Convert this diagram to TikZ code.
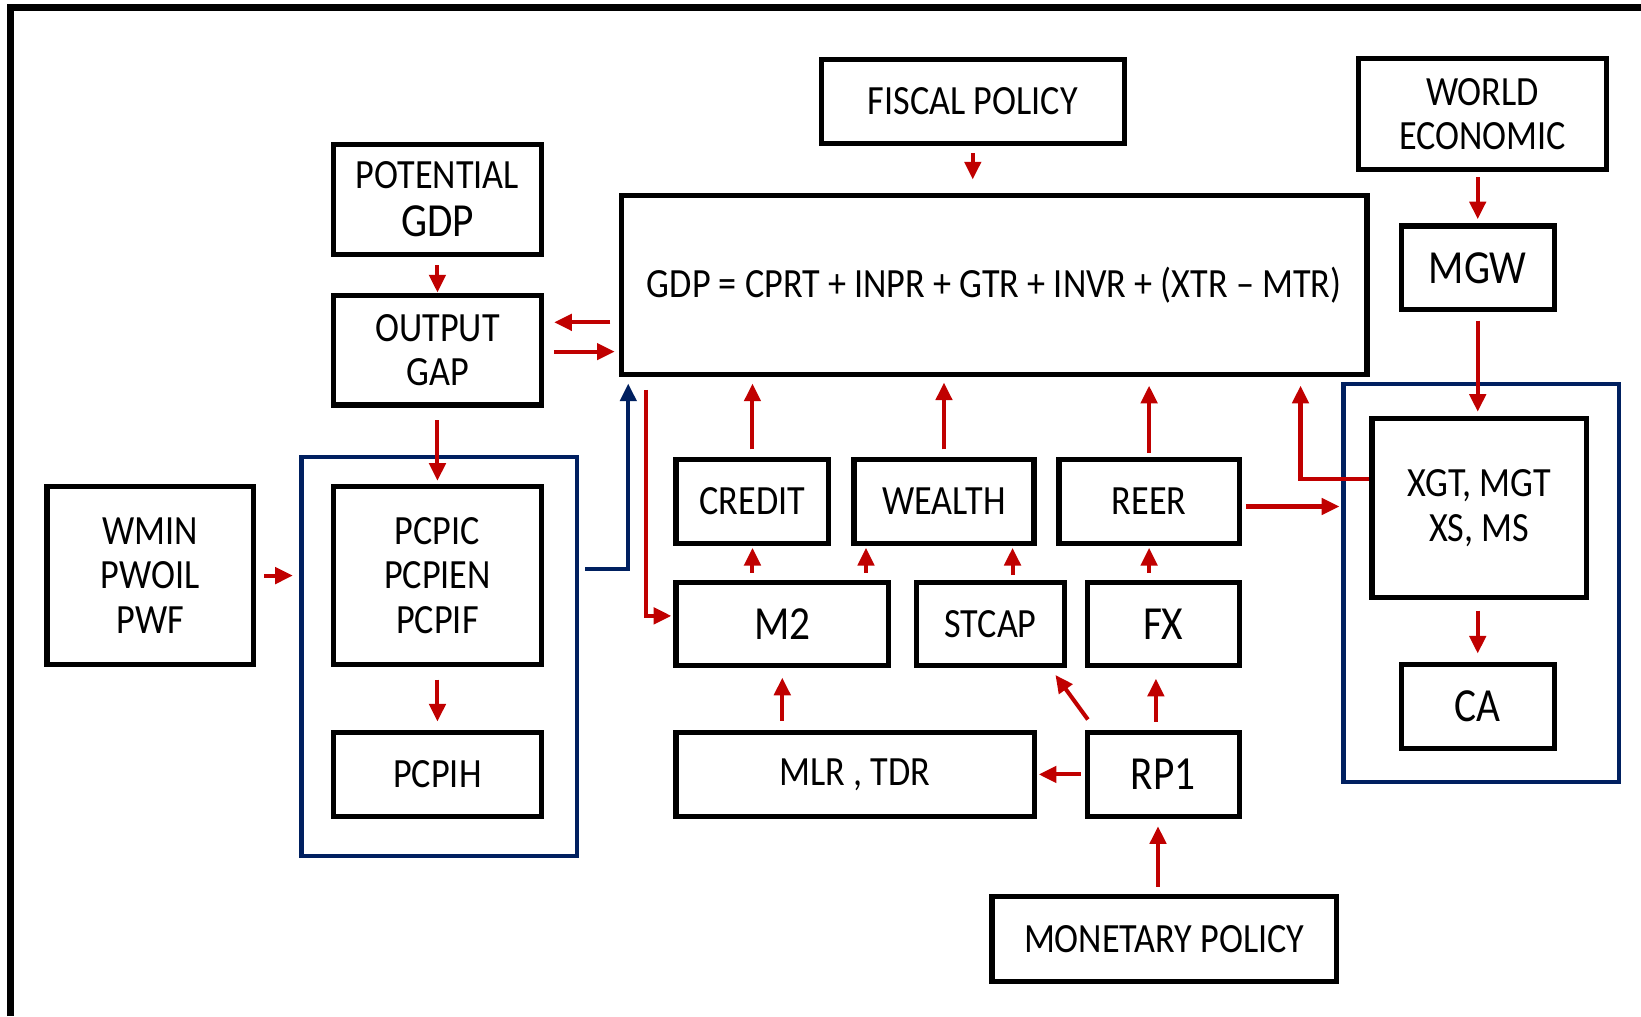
\documentclass[tikz,border=0pt]{standalone}
\usepackage{fontspec}
\setmainfont{Carlito}[FakeStretch=0.87]
\usetikzlibrary{arrows.meta,calc}
\definecolor{linkred}{HTML}{C00000}
\definecolor{groupblue}{HTML}{002060}
\newcommand{\boxtxt}{\fontsize{11.3}{12.1}\selectfont}
\newcommand{\bigtxt}{\fontsize{12.9}{14}\selectfont}

\begin{document}
\begin{tikzpicture}[x=0.01cm, y=-0.01cm,
    box/.style={draw, line width=1.4pt, align=center, inner sep=0pt, font=\boxtxt},
    group/.style={draw=groupblue, line width=1.2pt, inner sep=0pt},
    link/.style={draw=linkred, line width=1.1pt, -{Triangle[length=4.8pt, width=4.4pt]}},
    feed/.style={draw=groupblue, line width=1.1pt, -{Triangle[length=4.8pt, width=4.4pt]}}]
    \useasboundingbox (0,0) rectangle (1568,971);

    % Frame
    \draw[line width=1.8pt] (10,971) -- (10,7) -- (1568,7);

    % Groups
    \node[group, minimum width=2.63cm, minimum height=3.81cm] (blueL) at (419.5,627.5) {};
    \node[group, minimum width=2.63cm, minimum height=3.80cm] (blueR) at (1415.5,557) {};

    % Supply side and prices
    \node[box, minimum width=1.98cm, minimum height=1.05cm] (pot) at (418,190.5) {POTENTIAL\\[1pt]{\bigtxt GDP}};
    \node[box, minimum width=1.98cm, minimum height=1.05cm] (gap) at (418,334.5) {OUTPUT\\GAP};
    \node[box, minimum width=1.97cm, minimum height=1.70cm] (wmin) at (143.5,550) {WMIN\\PWOIL\\PWF};
    \node[box, minimum width=1.98cm, minimum height=1.70cm] (pcpic) at (418,550) {PCPIC\\PCPIEN\\PCPIF};
    \node[box, minimum width=1.98cm, minimum height=0.80cm] (pcpih) at (418,740) {PCPIH};

    % Demand block
    \node[box, minimum width=2.89cm, minimum height=0.80cm] (fiscal) at (929.5,97) {FISCAL POLICY};
    \node[box, minimum width=7.12cm, minimum height=1.71cm] (gdp) at (950,272.5) {GDP = CPRT + INPR + GTR + INVR + (XTR -- MTR)};

    % External sector
    \node[box, minimum width=2.37cm, minimum height=1.06cm] (world) at (1416.5,109) {WORLD\\ECONOMIC};
    \node[box, minimum width=1.46cm, minimum height=0.80cm, font=\bigtxt] (mgw) at (1412,256) {MGW};
    \node[box, minimum width=2.05cm, minimum height=1.71cm] (xgt) at (1413.5,485.5) {XGT, MGT\\XS, MS};
    \node[box, minimum width=1.46cm, minimum height=0.80cm, font=\bigtxt] (ca) at (1412,675) {CA};

    % Monetary block
    \node[box, minimum width=1.46cm, minimum height=0.80cm] (credit) at (719,479) {CREDIT};
    \node[box, minimum width=1.72cm, minimum height=0.80cm] (wealth) at (902,479) {WEALTH};
    \node[box, minimum width=1.72cm, minimum height=0.80cm] (reer) at (1098,479) {REER};
    \node[box, minimum width=2.03cm, minimum height=0.79cm, font=\bigtxt] (m2) at (747.5,596.5) {M2};
    \node[box, minimum width=1.41cm, minimum height=0.79cm] (stcap) at (946.5,596.5) {STCAP};
    \node[box, minimum width=1.45cm, minimum height=0.79cm, font=\bigtxt] (fx) at (1111.5,596.5) {FX};
    \node[box, minimum width=3.42cm, minimum height=0.80cm] (mlr) at (817,740) {MLR , TDR};
    \node[box, minimum width=1.45cm, minimum height=0.80cm, font=\bigtxt] (rp1) at (1111.5,740) {RP1};
    \node[box, minimum width=3.29cm, minimum height=0.81cm] (monetary) at (1112.5,897.5) {MONETARY POLICY};

    % Arrows, left part
    \draw[link, shorten <=0.8mm] (pot.south) -- (gap.north);
    \draw[link] ($(gdp.west |- gap.east)+(-8,-26.5)$) -- ($(gap.east)+(10,-26.5)$);
    \draw[link] ($(gap.east)+(10,1.5)$) -- ($(gdp.west |- gap.east)+(-4,1.5)$);
    \draw[link, shorten <=1.2mm, shorten >=0.3mm] (gap.south) -- (pcpic.north);
    \draw[link, shorten <=0.8mm, shorten >=0.6mm] (wmin.east) -- (blueL.west |- wmin.east);
    \draw[link, shorten <=1.2mm, shorten >=0.8mm] (pcpic.south) -- (pcpih.north);
    \draw[feed] ($(blueL.east |- pcpic.east)+(6,-6)$) -| ($(gdp.south west)+(9,6)$);
    \draw[link] ($(gdp.south west)+(26,12)$) |- ($(m2.west)+(-2,-8)$);

    % Arrows into GDP
    \draw[link, shorten <=0.7mm, shorten >=0.6mm] (credit.north) -- (credit.north |- gdp.south);
    \draw[link, shorten <=0.7mm, shorten >=0.5mm] (wealth.north) -- (wealth.north |- gdp.south);
    \draw[link, shorten <=0.4mm, shorten >=0.8mm] (reer.north) -- (reer.north |- gdp.south);
    \draw[link] ($(xgt.west)+(0,-27.5)$) -| ($(gdp.south east)+(-66,8)$);
    \draw[link, shorten <=0.7mm, shorten >=1.3mm] (fiscal.south) -- (fiscal.south |- gdp.north);
    \draw[link, shorten <=0.4mm, shorten >=0.2mm] ($(reer.east)+(0,5)$) -- ($(reer.east -| blueR.west)+(0,5)$);

    % Arrows in the monetary block
    \draw[link, shorten <=0.7mm, shorten >=0.2mm] (credit.south |- m2.north) -- (credit.south);
    \draw[link, shorten <=0.7mm, shorten >=0.2mm] ($(wealth.south west |- m2.north)+(14,0)$) -- ($(wealth.south west)+(14,0)$);
    \draw[link, shorten <=0.5mm, shorten >=0.2mm] ($(stcap.north)+(21,0)$) -- ($(stcap.north |- wealth.south)+(21,0)$);
    \draw[link, shorten <=0.7mm, shorten >=0.2mm] (reer.south |- fx.north) -- (reer.south);
    \draw[link, shorten <=0.9mm, shorten >=0.9mm] (m2.south |- mlr.north) -- (m2.south);
    \draw[link] ($(rp1.north west)+(3,-10)$) -- ($(stcap.south east)+(-11,6.5)$);
    \draw[link, shorten <=0.8mm, shorten >=1mm] ($(fx.south |- rp1.north)+(-7,0)$) -- ($(fx.south)+(-7,0)$);
    \draw[link, shorten <=0.4mm, shorten >=0.2mm] (rp1.west) -- (mlr.east);
    \draw[link, shorten <=0.7mm, shorten >=0.7mm] ($(rp1.south |- monetary.north)+(-5,0)$) -- ($(rp1.south)+(-5,0)$);

    % Arrows, external sector
    \draw[link, shorten <=0.5mm, shorten >=0.4mm] (mgw.north |- world.south) -- (mgw.north);
    \draw[link, shorten <=0.8mm, shorten >=0.4mm] (mgw.south) -- (mgw.south |- xgt.north);
    \draw[link, shorten <=1mm, shorten >=0.8mm] (ca.north |- xgt.south) -- (ca.north);
\end{tikzpicture}
\end{document}
